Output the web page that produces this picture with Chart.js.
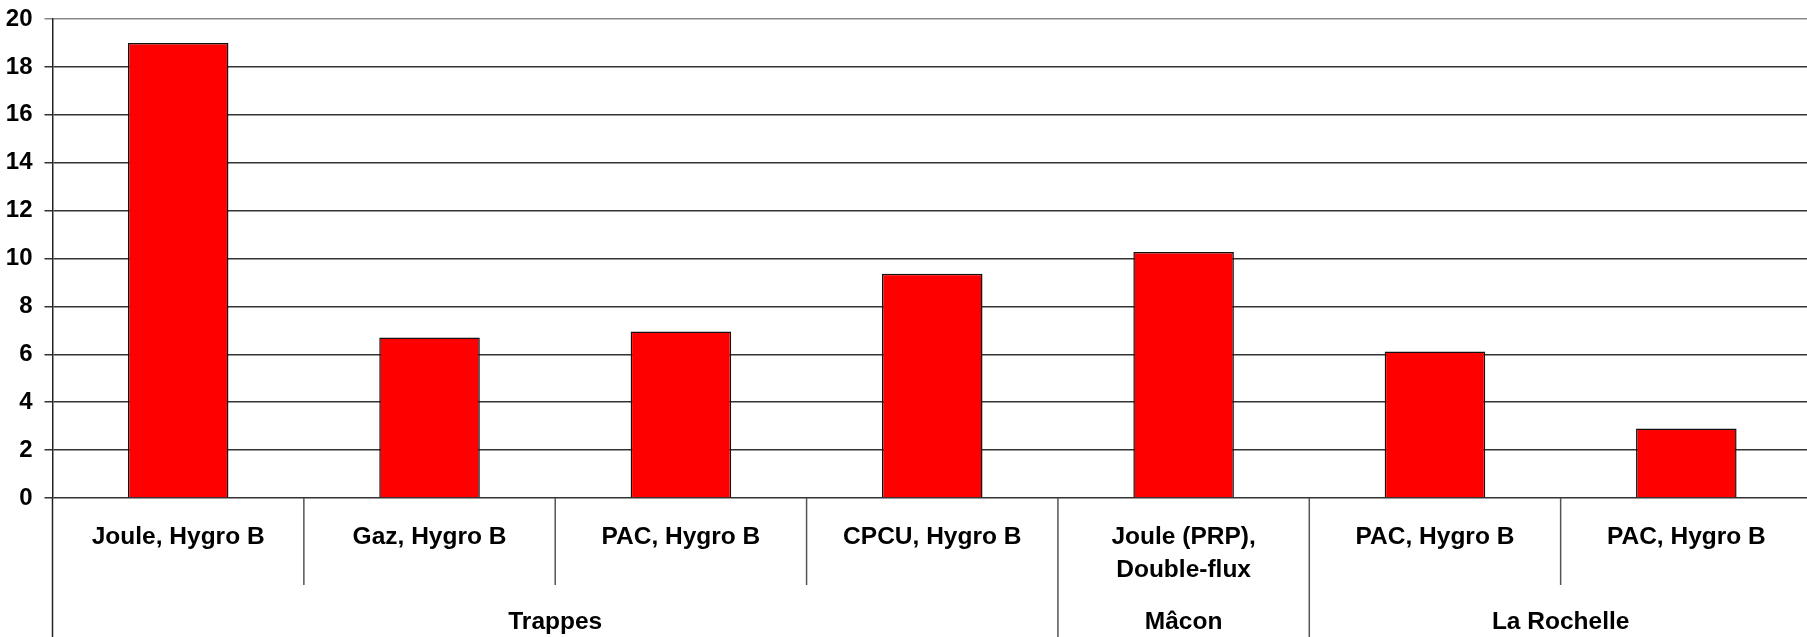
<!DOCTYPE html>
<html>
<head>
<meta charset="utf-8">
<script src="https://cdn.jsdelivr.net/npm/chart.js@4"></script>
<style>
    body { margin: 0; overflow: hidden; background: #fff; }
    canvas { display: block; }
</style>
</head>
<body>
<canvas id="chart" width="1812" height="637"></canvas>
<script>
const categories = [
    ['Joule, Hygro B'],
    ['Gaz, Hygro B'],
    ['PAC, Hygro B'],
    ['CPCU, Hygro B'],
    ['Joule (PRP),', 'Double-flux'],
    ['PAC, Hygro B'],
    ['PAC, Hygro B']
];
const values = [19.0, 6.7, 6.95, 9.36, 10.27, 6.12, 2.9];
const groups = ['Trappes', 'Mâcon', 'La Rochelle'];
const groupSizes = [4, 1, 2];
const yTicks = { min: 0, max: 20, step: 2 };

const FONT = 'bold 24.5px "Liberation Sans", Arial, sans-serif';

// étiquettes à deux niveaux sous l'axe X
const axisLabels = {
    id: 'axisLabels',
    afterDraw(chart) {
        const ctx = chart.ctx;
        const x = chart.scales.x;
        const area = chart.chartArea;
        const bottom = chart.height;
        const mid = i => (x.getPixelForValue(i) + x.getPixelForValue(i + 1)) / 2;

        ctx.save();
        ctx.lineWidth = 1.5;
        ctx.strokeStyle = '#222';
        ctx.beginPath();
        ctx.moveTo(area.left, area.bottom);
        ctx.lineTo(area.left, bottom);
        ctx.stroke();

        ctx.strokeStyle = '#555';
        let start = 0;
        groupSizes.forEach((size, g) => {
            for (let i = start; i < start + size - 1; i++) {
                ctx.beginPath();
                ctx.moveTo(mid(i), area.bottom);
                ctx.lineTo(mid(i), area.bottom + 87);
                ctx.stroke();
            }
            const end = start + size - 1;
            if (g < groupSizes.length - 1) {
                ctx.beginPath();
                ctx.moveTo(mid(end), area.bottom);
                ctx.lineTo(mid(end), bottom);
                ctx.stroke();
            }
            start += size;
        });

        ctx.fillStyle = '#000';
        ctx.font = FONT;
        ctx.textAlign = 'center';
        ctx.textBaseline = 'middle';
        categories.forEach((lines, i) => {
            lines.forEach((line, k) => {
                ctx.fillText(line, x.getPixelForValue(i), area.bottom + 39 + k * 33);
            });
        });

        start = 0;
        groups.forEach((name, g) => {
            const left = x.getPixelForValue(start) - x.width / categories.length / 2;
            const right = x.getPixelForValue(start + groupSizes[g] - 1) + x.width / categories.length / 2;
            ctx.fillText(name, (left + right) / 2, area.bottom + 124);
            start += groupSizes[g];
        });
        ctx.restore();
    }
};

new Chart(document.getElementById('chart').getContext('2d'), {
    type: 'bar',
    data: {
        labels: categories.map(c => c.join(' ')),
        datasets: [{
            data: values,
            backgroundColor: '#ff0000',
            borderColor: '#111',
            borderWidth: 1.5,
            barPercentage: 0.4,
            categoryPercentage: 1
        }]
    },
    options: {
        responsive: false,
        animation: false,
        devicePixelRatio: 1,
        layout: { padding: { top: 19, left: 0, right: 0, bottom: 0 } },
        plugins: {
            legend: { display: false },
            tooltip: { enabled: false }
        },
        scales: {
            x: {
                ticks: { display: false },
                grid: { display: false },
                border: { display: false },
                afterFit: scale => { scale.height = 139; }
            },
            y: {
                min: yTicks.min,
                max: yTicks.max,
                ticks: {
                    stepSize: yTicks.step,
                    color: '#000',
                    padding: 12,
                    font: { family: '"Liberation Sans", Arial, sans-serif', size: 24, weight: 'bold', lineHeight: 0.5 }
                },
                grid: {
                    color: ctx => ctx.tick && ctx.tick.value === yTicks.max ? '#888' : '#333',
                    lineWidth: 1.5,
                    tickLength: 8
                },
                border: { color: '#222', width: 1.5 },
                afterFit: scale => { scale.width = 52.5; }
            }
        }
    },
    plugins: [axisLabels]
});
</script>
</body>
</html>
